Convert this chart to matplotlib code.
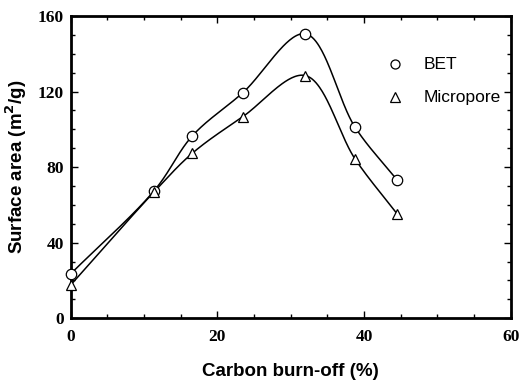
import matplotlib
matplotlib.use("Agg")
import matplotlib.pyplot as plt
import matplotlib.ticker as ticker
import numpy as np

# Surface area vs. carbon burn-off
burnoff = [0.0, 11.4, 16.6, 23.5, 32.0, 38.8, 44.5]
bet = [23.5, 67.6, 96.6, 119.5, 150.6, 101.0, 73.3]
micropore = [17.6, 67.0, 87.4, 106.8, 128.5, 84.2, 55.3]

series_names = ["BET", "Micropore"]
series_markers = ["o", "^"]

# tick labels in bold serif
plt.rcParams["font.family"] = "Liberation Serif"
plt.rcParams["font.weight"] = "bold"
plt.rcParams["font.size"] = 12.5

XLIM = (0, 60)
YLIM = (0, 160)


def catmull_rom(x, y, sx, sy, per_seg=60):
    # centripetal Catmull-Rom through the points, computed in screen-like units
    P = np.column_stack([np.asarray(x, float) * sx, np.asarray(y, float) * sy])
    P = np.vstack([2 * P[0] - P[1], P, 2 * P[-1] - P[-2]])
    out = []
    for i in range(1, len(P) - 2):
        p0, p1, p2, p3 = P[i - 1], P[i], P[i + 1], P[i + 2]
        t0 = 0.0
        t1 = t0 + np.linalg.norm(p1 - p0) ** 0.5
        t2 = t1 + np.linalg.norm(p2 - p1) ** 0.5
        t3 = t2 + np.linalg.norm(p3 - p2) ** 0.5
        t = np.linspace(t1, t2, per_seg)[:, None]
        a1 = (t1 - t) / (t1 - t0) * p0 + (t - t0) / (t1 - t0) * p1
        a2 = (t2 - t) / (t2 - t1) * p1 + (t - t1) / (t2 - t1) * p2
        a3 = (t3 - t) / (t3 - t2) * p2 + (t - t2) / (t3 - t2) * p3
        b1 = (t2 - t) / (t2 - t0) * a1 + (t - t0) / (t2 - t0) * a2
        b2 = (t3 - t) / (t3 - t1) * a2 + (t - t1) / (t3 - t1) * a3
        c = (t2 - t) / (t2 - t1) * b1 + (t - t1) / (t2 - t1) * b2
        out.append(c)
    c = np.vstack(out)
    return c[:, 0] / sx, c[:, 1] / sy


fig = plt.figure(figsize=(5.2, 3.82), dpi=100)
ax = fig.add_axes([0.136, 0.167, 0.846, 0.791])

# scale factors so the spline is built in pixel-like proportions
sx = 0.846 * 520 / (XLIM[1] - XLIM[0])
sy = 0.791 * 382 / (YLIM[1] - YLIM[0])

for vals, mk in zip([bet, micropore], series_markers):
    cx, cy = catmull_rom(burnoff, vals, sx, sy)
    ax.plot(cx, cy, color="black", lw=1.1, zorder=2)
    ax.plot(burnoff, vals, linestyle="none", marker=mk, markersize=7.5,
            markerfacecolor="white", markeredgecolor="black",
            markeredgewidth=0.9, zorder=3, clip_on=False)

# legend drawn as plain markers + labels
for i, (name, mk) in enumerate(zip(series_names, series_markers)):
    yy = 134.5 - i * 17.5
    ax.plot([44.2], [yy], linestyle="none", marker=mk, markersize=6.5,
            markerfacecolor="white", markeredgecolor="black",
            markeredgewidth=0.9)
    ax.text(48.2, yy, name, family="Liberation Sans", weight="normal",
            size=12.5, va="center", ha="left")

ax.set_xlim(*XLIM)
ax.set_ylim(*YLIM)
ax.xaxis.set_major_locator(ticker.MultipleLocator(20))
ax.xaxis.set_minor_locator(ticker.MultipleLocator(5))
ax.yaxis.set_major_locator(ticker.MultipleLocator(40))
ax.yaxis.set_minor_locator(ticker.MultipleLocator(10))

ax.tick_params(which="both", direction="in", top=True, right=True, width=1.0)
ax.tick_params(which="major", length=5)
ax.tick_params(which="minor", length=3)
ax.tick_params(axis="x", which="major", pad=8)
ax.tick_params(axis="y", which="major", pad=5)

for sp in ax.spines.values():
    sp.set_linewidth(2.0)

ax.set_xlabel("Carbon burn-off (%)", family="Liberation Sans",
              weight="bold", size=13.5, va="center")
ax.set_ylabel("Surface area (m$^\\mathbf{2}$/g)", family="Liberation Sans",
              weight="bold", size=13.5, va="center")
ax.xaxis.set_label_coords(0.5, -0.178)
ax.yaxis.set_label_coords(-0.124, 0.5)

fig.savefig("out.png", dpi=100)
